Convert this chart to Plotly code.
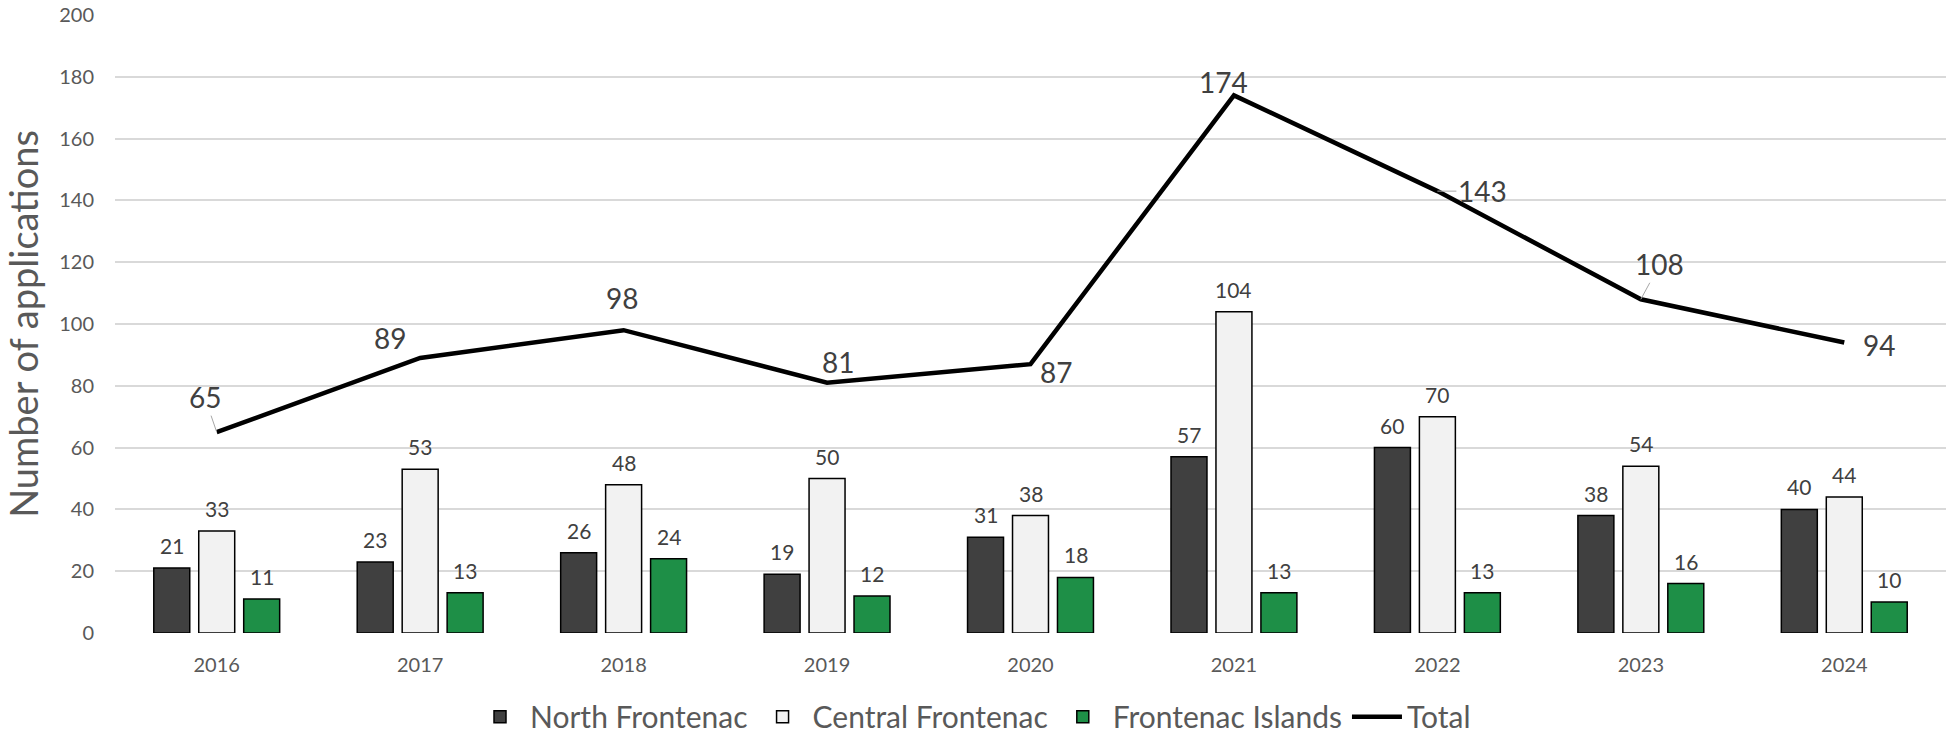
import plotly.graph_objects as go

years = ["2016", "2017", "2018", "2019", "2020", "2021", "2022", "2023", "2024"]
north = [21, 23, 26, 19, 31, 57, 60, 38, 40]
central = [33, 53, 48, 50, 38, 104, 70, 54, 44]
islands = [11, 13, 24, 12, 18, 13, 13, 16, 10]
total = [65, 89, 98, 81, 87, 174, 143, 108, 94]

# label offsets for Total line (pixels) and whether a leader line is drawn
total_label_dx = [-12, -30, -2, 11, 25, -10, 45, 19, 35]
total_label_dy = [-35, -20, -32, -21, 8, -13, 0, -35, 2]
total_leader = [True, False, False, False, False, False, True, True, False]

FONT = "Lato, Carlito, Calibri, sans-serif"
TXT = "#595959"
LBL = "#404040"

fig = go.Figure()
series = [
    ("North Frontenac", north, "#404040"),
    ("Central Frontenac", central, "#f2f2f2"),
    ("Frontenac Islands", islands, "#1e8f47"),
]
for name, vals, col in series:
    fig.add_trace(go.Bar(
        x=years, y=vals, name=name,
        marker=dict(color=col, line=dict(color="#000000", width=1.5)),
    ))
fig.add_trace(go.Scatter(
    x=years, y=total, name="Total", mode="lines",
    line=dict(color="#000000", width=4.5),
))

annotations = []
shifts = [-45, 0, 45]
for (name, vals, col), sx in zip(series, shifts):
    for i, v in enumerate(vals):
        annotations.append(dict(
            x=i, y=v, text=str(v), showarrow=False, xshift=sx, yshift=8,
            yanchor="bottom", font=dict(family=FONT, size=21, color=LBL),
        ))
for i, (v, dx, dy, lead) in enumerate(zip(total, total_label_dx, total_label_dy, total_leader)):
    if lead:
        annotations.append(dict(
            x=i, y=v, text=str(v), showarrow=True, ax=dx, ay=dy,
            arrowhead=0, arrowwidth=1, arrowcolor="#a6a6a6", standoff=0,
            font=dict(family=FONT, size=28, color=LBL),
        ))
    else:
        annotations.append(dict(
            x=i, y=v, text=str(v), showarrow=False, xshift=dx, yshift=-dy,
            font=dict(family=FONT, size=28, color=LBL),
        ))

fig.update_layout(
    width=1946, height=735,
    margin=dict(l=115, r=0, t=15, b=102, autoexpand=False),
    paper_bgcolor="white", plot_bgcolor="white",
    barmode="group", bargap=0.337, bargroupgap=0.2,
    font=dict(family=FONT, color=TXT),
    showlegend=True,
    legend=dict(
        orientation="h", xref="container", yref="container",
        x=0.5, xanchor="center", y=0.025, yanchor="middle",
        font=dict(family=FONT, size=30, color=TXT),
        itemwidth=50, traceorder="normal",
    ),
    annotations=annotations,
    xaxis=dict(
        type="category", range=[-0.5, len(years) - 0.5], autorange=False,
        showgrid=False, zeroline=False, showline=False,
        ticks="", tickfont=dict(family=FONT, size=20, color=TXT),
        ticklabelstandoff=18,
    ),
    yaxis=dict(
        range=[0, 200], autorange=False, dtick=20, showgrid=True,
        gridcolor="#d9d9d9", gridwidth=1.5,
        zeroline=False, showline=False, ticks="",
        tickfont=dict(family=FONT, size=20, color=TXT),
        ticklabelstandoff=20,
        title=dict(text="Number of applications", standoff=16,
                   font=dict(family=FONT, size=38, color=TXT)),
        automargin=False,
    ),
)

fig.write_html(
    "out.html",
    config={"displayModeBar": False},
    post_script="document.body.style.margin='0';document.body.style.padding='0';",
)
